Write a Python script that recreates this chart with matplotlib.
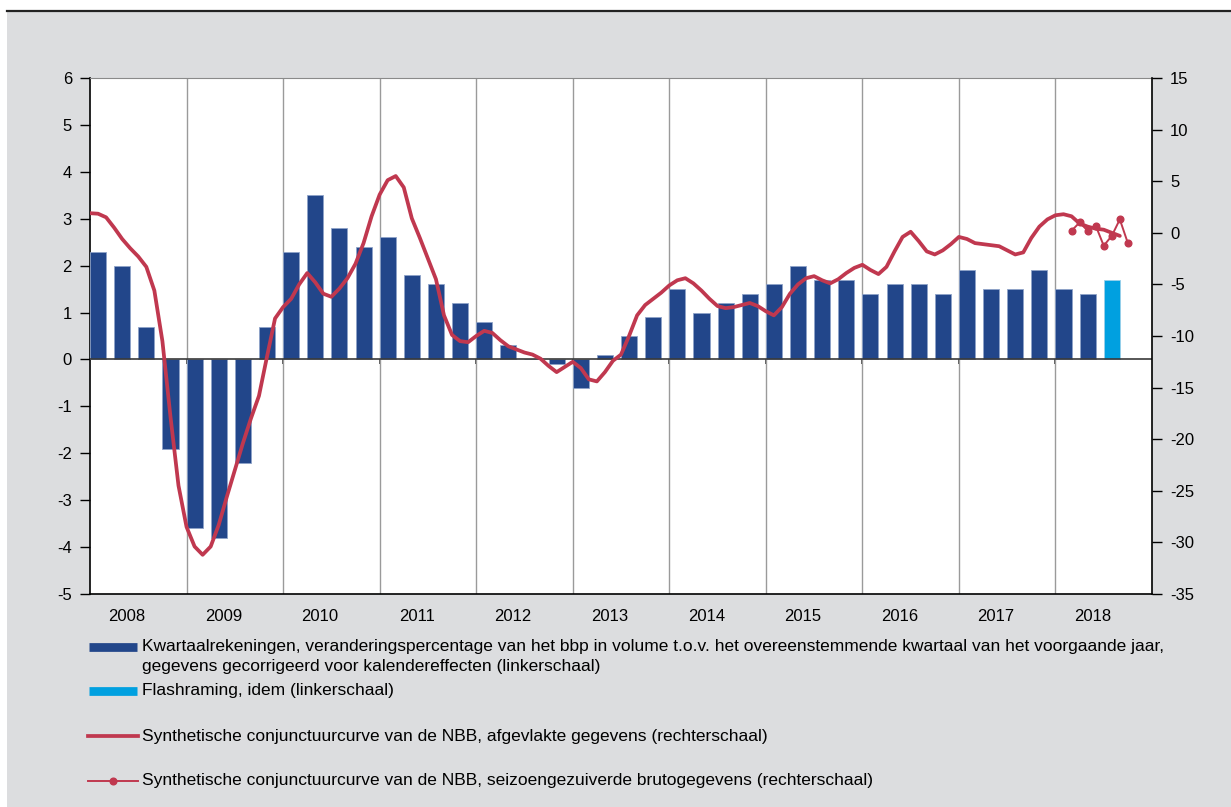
import matplotlib
matplotlib.use("Agg")
import matplotlib.pyplot as plt
from matplotlib.lines import Line2D
from matplotlib.patches import Rectangle
import numpy as np

plt.rcParams['font.family'] = ['Liberation Sans', 'DejaVu Sans']
plt.rcParams['axes.unicode_minus'] = False

# quarterly GDP growth (left scale), 2008Q1 .. 2018Q2 + flash estimate 2018Q3
gdp = [2.3, 2.0, 0.7, -1.9,
       -3.6, -3.8, -2.2, 0.7,
       2.3, 3.5, 2.8, 2.4,
       2.6, 1.8, 1.6, 1.2,
       0.8, 0.3, 0.0, -0.1,
       -0.6, 0.1, 0.5, 0.9,
       1.5, 1.0, 1.2, 1.4,
       1.6, 2.0, 1.7, 1.7,
       1.4, 1.6, 1.6, 1.4,
       1.9, 1.5, 1.5, 1.9,
       1.5, 1.4]
flash = [1.7]

# smoothed business barometer (right scale), monthly from Jan 2008
sm_value = [1.9, 1.85, 1.5, 0.5, -0.6, -1.5, -2.3, -3.3, -5.6, -10.5, -17.8, -24.5,   # 2008
            -28.5, -30.4, -31.2, -30.4, -28.3, -25.6, -23.0, -20.4, -18.0, -15.8, -12.0, -8.3,  # 2009
            -7.2, -6.4, -5.0, -3.9, -4.8, -5.9, -6.2, -5.4, -4.4, -3.0, -1.0, 1.6,   # 2010
            3.7, 5.1, 5.5, 4.4, 1.4, -0.5, -2.5, -4.5, -8.0, -9.9, -10.5, -10.6,   # 2011
            -10.0, -9.5, -9.7, -10.4, -11.0, -11.3, -11.6, -11.8, -12.2, -12.9, -13.5, -13.0,  # 2012
            -12.5, -13.1, -14.2, -14.4, -13.5, -12.4, -11.8, -10.0, -8.0, -7.0, -6.4, -5.8,  # 2013
            -5.1, -4.6, -4.4, -4.9, -5.6, -6.4, -7.1, -7.3, -7.2, -7.0, -6.8, -7.1,   # 2014
            -7.6, -8.0, -7.2, -5.9, -5.0, -4.4, -4.2, -4.6, -4.9, -4.5, -3.9, -3.4,   # 2015
            -3.1, -3.6, -4.0, -3.3, -1.8, -0.4, 0.1, -0.8, -1.8, -2.1, -1.7, -1.1,    # 2016
            -0.4, -0.6, -1.0, -1.1, -1.2, -1.3, -1.7, -2.1, -1.9, -0.5, 0.6, 1.3,     # 2017
            1.7, 1.8, 1.6, 0.9, 0.6, 0.4, 0.3, 0.0, -0.3]                              # 2018
sm_month = list(range(len(sm_value)))

# raw seasonally adjusted barometer (right scale)
raw_month = [122, 123, 124, 125, 126, 127, 128, 129]
raw_value = [0.2, 1.0, 0.2, 0.7, -1.25, -0.3, 1.3, -1.0]

years = [str(y) for y in range(2008, 2019)]

dark = '#22468A'
light = '#00A0E0'
red = '#C0384F'
grey_bg = '#DCDDDF'

W, H = 1231, 807
fig = plt.figure(figsize=(W / 100, H / 100), dpi=100)
fig.patch.set_facecolor('white')
fig.add_artist(Rectangle((7 / W, 0), 1, 1 - 12 / H, transform=fig.transFigure,
                         facecolor=grey_bg, edgecolor='none', zorder=-10))
fig.add_artist(Line2D([7 / W, 1], [1 - 11 / H, 1 - 11 / H], transform=fig.transFigure,
                      color='#222222', lw=1.6))

ax = fig.add_axes([90 / W, 1 - 594 / H, (1152 - 90) / W, (594 - 78) / H])
ax.set_facecolor('white')
ax.set_xlim(0, 132)
ax.set_ylim(-5, 6)
ax.set_yticks(range(-5, 7))

nq = len(gdp)
ax.bar(np.arange(nq) * 3 + 1, gdp, width=2, color=dark, edgecolor='#8EA3C8', linewidth=0.6, zorder=3)
ax.bar(np.arange(nq, nq + len(flash)) * 3 + 1, flash, width=2, color=light, edgecolor='#9ACFEA',
       linewidth=0.6, zorder=3)

for k in range(1, 11):
    ax.axvline(12 * k, color='#9A9A9A', lw=1.0, zorder=1)
ax.axhline(0, color='#3A3A3A', lw=1.2, zorder=4)

# small ticks on the zero line
zx = ax.secondary_xaxis(5 / 11)
zx.set_xticks([12 * k for k in range(1, 11)])
zx.set_xticklabels([])
zx.tick_params(direction='out', length=3.5, width=1.2, color='#3A3A3A')
zx.spines['bottom'].set_visible(False)

ax.set_xticks([12 * k + 4.6 for k in range(11)], years)
ax.tick_params(axis='x', length=0, pad=11, labelsize=12)
ax.tick_params(axis='y', direction='out', length=7, width=1, pad=6, labelsize=12)

for s in ['left', 'bottom']:
    ax.spines[s].set_color('black')
    ax.spines[s].set_linewidth(1.2)
ax.spines['top'].set_color('#8A8A8A')
ax.spines['right'].set_visible(False)

ax2 = ax.twinx()
ax2.set_ylim(-35, 15)
ax2.set_yticks(range(-35, 16, 5))
ax2.tick_params(axis='y', direction='out', length=7, width=1, pad=6, labelsize=12)
ax2.spines['right'].set_color('black')
ax2.spines['right'].set_linewidth(1.2)
for s in ['left', 'top', 'bottom']:
    ax2.spines[s].set_visible(False)

ax2.plot(sm_month, sm_value, color=red, lw=2.7, solid_joinstyle='round',
         solid_capstyle='round', zorder=5)
ax2.plot(raw_month, raw_value, color=red, lw=1.4, marker='o', markersize=4.8, zorder=6)

# legend
def fx(px):
    return px / W

def fy(py):
    return 1 - py / H

fs = 12.5
fig.add_artist(Line2D([fx(89), fx(137)], [fy(647), fy(647)], color=dark, lw=6.3,
                      solid_capstyle='butt'))
fig.text(fx(142), fy(646), 'Kwartaalrekeningen, veranderingspercentage van het bbp in volume t.o.v. '
         'het overeenstemmende kwartaal van het voorgaande jaar,',
         fontsize=fs, va='center', ha='left')
fig.text(fx(142), fy(667), 'gegevens gecorrigeerd voor kalendereffecten (linkerschaal)',
         fontsize=fs, va='center', ha='left')
fig.add_artist(Line2D([fx(89), fx(137)], [fy(691), fy(691)], color=light, lw=6.3,
                      solid_capstyle='butt'))
fig.text(fx(142), fy(691), 'Flashraming, idem (linkerschaal)', fontsize=fs, va='center', ha='left')
fig.add_artist(Line2D([fx(88), fx(138)], [fy(736), fy(736)], color=red, lw=2.7))
fig.text(fx(142), fy(736), 'Synthetische conjunctuurcurve van de NBB, afgevlakte gegevens (rechterschaal)',
         fontsize=fs, va='center', ha='left')
fig.add_artist(Line2D([fx(88), fx(113), fx(138)], [fy(781)] * 3, color=red, lw=1.4,
                      marker='o', markersize=4.8, markevery=[1]))
fig.text(fx(142), fy(781), 'Synthetische conjunctuurcurve van de NBB, seizoengezuiverde brutogegevens (rechterschaal)',
         fontsize=fs, va='center', ha='left')

fig.savefig('out.png', dpi=100, facecolor=fig.get_facecolor())
